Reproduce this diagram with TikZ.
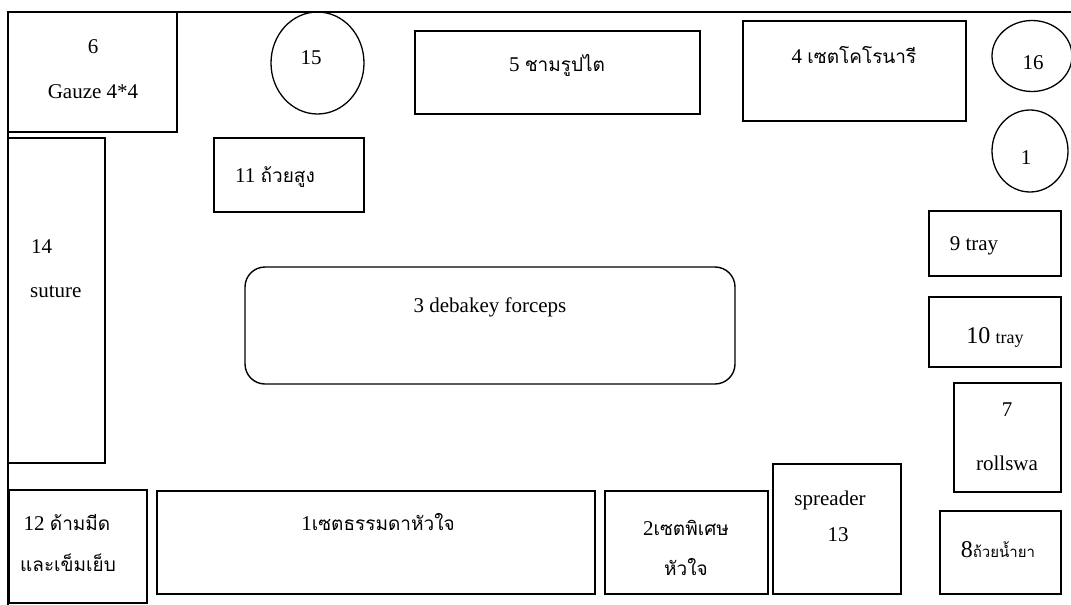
\documentclass[tikz,border=0pt]{standalone}
\usepackage{fontspec}
\setmainfont{Liberation Serif}
\newfontfamily\thai[Script=Thai]{Loma}
\usetikzlibrary{fit,shapes.geometric}
\tikzset{
  boxline/.style={draw, line width=1.4pt, inner sep=0pt, outer sep=0pt},
  circ/.style={draw, line width=1.3pt, ellipse, inner sep=0pt},
  lbl/.style={inner sep=0pt, font=\fontsize{21}{25}\selectfont},
  tl/.style={inner sep=0pt, font=\fontsize{18}{22}\selectfont\thai},
}
\begin{document}
\begin{tikzpicture}[x=1pt,y=-1pt]
\useasboundingbox (0,0) rectangle (1071,605);
% frame
\coordinate (fr1) at (1071,12);
\coordinate (fr2) at (8,12);
\coordinate (fr3) at (8,605);
\draw[line width=1.2pt] (fr1) -- (fr2) -- (fr3);
% boxes
\node[boxline, fit={(8,12) (177,132)}] (b6) {};
\node[boxline, fit={(8,138) (105,463)}] (b14) {};
\node[boxline, fit={(214,138) (364,212)}] (b11) {};
\node[boxline, fit={(415,31) (700,114)}] (b5) {};
\node[boxline, fit={(743,21) (966,121)}] (b4) {};
\node[boxline, fit={(929,211) (1061,276)}] (b9) {};
\node[boxline, fit={(929,297) (1061,367)}] (b10) {};
\node[boxline, fit={(954,383) (1061,492)}] (b7) {};
\node[boxline, fit={(940,511) (1061,594)}] (b8) {};
\node[boxline, fit={(773,464) (901,594)}] (b13) {};
\node[boxline, fit={(605,491) (768,594)}] (b2) {};
\node[boxline, fit={(157,491) (595,594)}] (b1) {};
\node[boxline, fit={(9,490) (147,603)}] (b12) {};
\node[boxline, rounded corners=20pt, fit={(245,267) (735,384)}] (b3) {};
% circles
\node[circ, minimum width=93pt, minimum height=102pt] (c15) at (317.5,63) {};
\node[circ, minimum width=80pt, minimum height=71pt] (c16) at (1032,56) {};
\node[circ, minimum width=76pt, minimum height=82pt] (c1) at (1030,151) {};
% texts
\node[lbl] (t6a) at (93,47) {6};
\node[lbl] (t6b) at (93,92) {Gauze 4*4};
\node[lbl] (t15) at (311,58) {15};
\node[lbl] (t5) at (557,65) {5 {\thai\fontsize{19}{22}\selectfont ชามรูปไต}};
\node[lbl] (t4) at (854,55) {4 {\thai\fontsize{19}{22}\selectfont เซตโคโรนารี}};
\node[lbl] (t16) at (1033,63) {16};
\node[lbl] (t1c) at (1026,158) {1};
\node[lbl, anchor=west] (t11) at (235,177) {11 {\thai\fontsize{19}{22}\selectfont ถ้วยสูง}};
\node[lbl, anchor=west] (t14a) at (31,247) {14};
\node[lbl, anchor=west] (t14b) at (30,292) {suture};
\node[lbl] (t3) at (490,307) {3 debakey forceps};
\node[lbl] (t9) at (974,246) {9 tray};
\node[lbl] (t10) at (995,337) {{\fontsize{24}{26}\selectfont 10} {\fontsize{18}{20}\selectfont tray}};
\node[lbl] (t7a) at (1007,410) {7};
\node[lbl] (t7b) at (1007,463) {rollswa};
\node[lbl] (t8) at (998,550) {{\fontsize{24}{26}\selectfont 8}{\thai\fontsize{15}{18}\selectfont ถ้วยน้ำยา}};
\node[lbl] (t13a) at (830,500) {spreader};
\node[lbl] (t13b) at (838,535) {13};
\node[lbl] (t2a) at (686,528) {2{\thai\fontsize{19}{22}\selectfont เซตพิเศษ}};
\node[tl, font=\fontsize{19}{22}\selectfont\thai] (t2b) at (686,567) {หัวใจ};
\node[lbl] (t1) at (378,522) {1{\thai\fontsize{19}{22}\selectfont เซตธรรมดาหัวใจ}};
\node[lbl] (t12a) at (67,522) {12 {\thai\fontsize{19}{22}\selectfont ด้ามมีด}};
\node[tl, font=\fontsize{19}{22}\selectfont\thai] (t12b) at (68,563) {และเข็มเย็บ};
\end{tikzpicture}
\end{document}
